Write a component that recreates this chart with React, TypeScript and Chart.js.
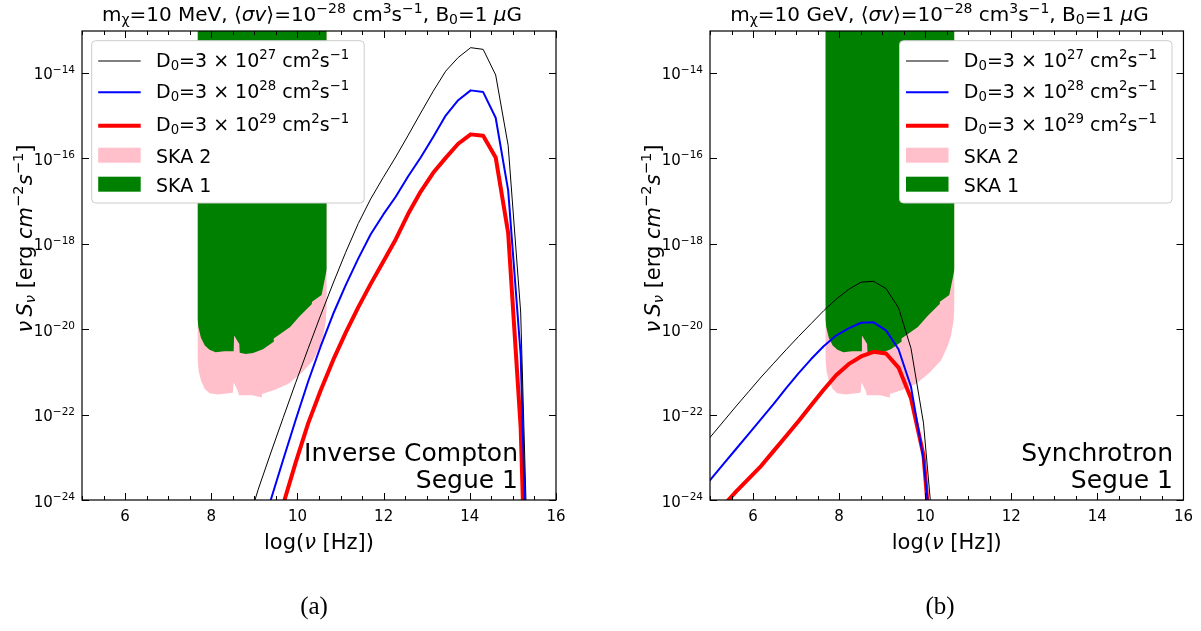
import React, { useEffect, useRef } from "react";
import { Chart, registerables } from "chart.js";

Chart.register(...registerables);

// ---------------- data (log10 values) ----------------
const xTicks = [6, 8, 10, 12, 14, 16];
const yTickExponents = [-24, -22, -20, -18, -16, -14];
const yMinExp = -24;
const yMaxExp = -13.02;
const xMin = 5;
const xMax = 16;

// (a) Inverse Compton, m = 10 MeV
const icLogNu = [8.8, 9.09, 9.38, 9.67, 9.96, 10.25, 10.54, 10.83, 11.12, 11.41, 11.7, 11.99, 12.28, 12.57, 12.86, 13.15, 13.44, 13.73, 14.02, 14.31, 14.6, 14.89, 15.18, 15.47];
const icD27 = [-24.7, -23.75, -22.9, -22.07, -21.25, -20.45, -19.67, -18.92, -18.2, -17.53, -16.95, -16.45, -15.97, -15.46, -14.94, -14.43, -13.96, -13.64, -13.41, -13.45, -14.05, -15.7, -19.6, -30];
const icD28 = [-25.8, -24.9, -24.0, -23.05, -22.12, -21.22, -20.4, -19.64, -18.97, -18.35, -17.78, -17.32, -16.9, -16.42, -15.98, -15.5, -15.0, -14.64, -14.41, -14.45, -15.05, -16.75, -20.6, -31];
const icD29 = [-27.0, -26.0, -25.0, -24.1, -23.12, -22.2, -21.43, -20.72, -20.08, -19.49, -18.94, -18.42, -17.9, -17.3, -16.78, -16.34, -15.99, -15.66, -15.44, -15.47, -15.98, -17.75, -22.3, -32];

// (b) Synchrotron, m = 10 GeV
const synLogNu = [4.74, 5.03, 5.32, 5.61, 5.9, 6.19, 6.48, 6.77, 7.06, 7.35, 7.64, 7.93, 8.22, 8.51, 8.8, 9.09, 9.38, 9.67, 9.96, 10.25];
const synD27 = [-22.85, -22.5, -22.15, -21.8, -21.46, -21.12, -20.8, -20.48, -20.17, -19.87, -19.57, -19.3, -19.07, -18.9, -18.88, -19.05, -19.5, -20.45, -22.2, -25.5];
const synD28 = [-23.85, -23.5, -23.15, -22.8, -22.45, -22.1, -21.75, -21.38, -21.03, -20.7, -20.4, -20.15, -19.98, -19.85, -19.84, -20.03, -20.47, -21.35, -23.05, -26.0];
const synD29 = [-24.8, -24.45, -24.12, -23.8, -23.5, -23.2, -22.85, -22.5, -22.15, -21.78, -21.42, -21.08, -20.82, -20.64, -20.53, -20.57, -20.9, -21.62, -22.95, -26.5];

// SKA sensitivity (lower edge of the shaded regions; shaded up to the top)
const ska1LogNu = [7.68, 7.7, 7.76, 7.85, 7.96, 8.1, 8.3, 8.52, 8.53, 8.65, 8.66, 8.8, 8.97, 9.2, 9.44, 9.45, 9.83, 10.05, 10.33, 10.34, 10.56, 10.64, 10.68];
const ska1Lower = [-19.75, -19.95, -20.2, -20.38, -20.48, -20.54, -20.52, -20.52, -20.15, -20.35, -20.55, -20.58, -20.56, -20.47, -20.3, -20.22, -19.95, -19.7, -19.42, -19.36, -19.2, -18.8, -18.6];
const ska2LogNu = [7.68, 7.71, 7.76, 7.85, 7.96, 8.15, 8.5, 8.52, 8.62, 8.64, 8.95, 9.17, 9.18, 9.48, 9.79, 10.1, 10.37, 10.52, 10.6, 10.66, 10.68];
const ska2Lower = [-20.7, -21.0, -21.2, -21.4, -21.5, -21.53, -21.49, -21.25, -21.45, -21.55, -21.55, -21.6, -21.52, -21.42, -21.28, -21.02, -20.73, -20.4, -20.15, -19.8, -19.5];

const diffusionExps = ["27", "28", "29"];
const seriesColors = ["#000000", "#0000ff", "#ff0000"];
const seriesWidths = [1, 2, 4];
const skaLabels = ["SKA 2", "SKA 1"];
const skaColors = ["#ffc0cb", "#008000"];
const panelMasses = ["10 MeV", "10 GeV"];
const panelNotes = [
  ["Inverse Compton", "Segue 1"],
  ["Synchrotron", "Segue 1"],
];
const captions = ["(a)", "(b)"];

// ---------------- helpers ----------------
const FAMILY = '"DejaVu Sans", sans-serif';
type Seg = { t: string; sub?: boolean; sup?: boolean; it?: boolean };

function segFont(s: Seg, size: number) {
  const sz = s.sub || s.sup ? size * 0.7 : size;
  return `${s.it ? "italic " : ""}${sz}px ${FAMILY}`;
}
function richWidth(ctx: CanvasRenderingContext2D, segs: Seg[], size: number) {
  let w = 0;
  for (const s of segs) {
    ctx.font = segFont(s, size);
    w += ctx.measureText(s.t).width;
  }
  return w;
}
function drawRich(ctx: CanvasRenderingContext2D, segs: Seg[], x: number, y: number, size: number, align: "left" | "center" | "right") {
  const w = richWidth(ctx, segs, size);
  let cx = align === "center" ? x - w / 2 : align === "right" ? x - w : x;
  ctx.textAlign = "left";
  ctx.textBaseline = "alphabetic";
  for (const s of segs) {
    ctx.font = segFont(s, size);
    const dy = s.sup ? -0.42 * size : s.sub ? 0.16 * size : 0;
    ctx.fillText(s.t, cx, y + dy);
    cx += ctx.measureText(s.t).width;
  }
}

const titleSegs = (mass: string): Seg[] => [
  { t: "m" }, { t: "\u03C7", sub: true }, { t: `=${mass}, \u27E8` }, { t: "\u03C3v", it: true },
  { t: "\u27E9=10" }, { t: "\u221228", sup: true }, { t: " cm" }, { t: "3", sup: true }, { t: "s" },
  { t: "\u22121", sup: true }, { t: ", B" }, { t: "0", sub: true }, { t: "=1 " }, { t: "\u03BC", it: true }, { t: "G" },
];
const legendSegs = (exp: string): Seg[] => [
  { t: "D" }, { t: "0", sub: true }, { t: "=3 \u00D7 10" }, { t: exp, sup: true }, { t: " cm" },
  { t: "2", sup: true }, { t: "s" }, { t: "\u22121", sup: true },
];
const yTickSegs = (e: number): Seg[] => [{ t: "10" }, { t: "\u2212" + String(Math.abs(e)), sup: true }];
const xTitleSegs: Seg[] = [{ t: "log(" }, { t: "\u03BD", it: true }, { t: " [Hz])" }];
const yTitleSegs: Seg[] = [
  { t: "\u03BD", it: true }, { t: "\u2009" }, { t: "S", it: true }, { t: "\u03BD", sub: true, it: true },
  { t: " [erg " }, { t: "cm", it: true }, { t: "\u22122", sup: true }, { t: "s", it: true }, { t: "\u22121", sup: true }, { t: "]" },
];

type Spec = {
  key: string;
  offsetX: number;
  width: number;
  plotLeft: number;
  plotRight: number;
  nu: number[];
  series: number[][];
  mass: string;
  note: string[];
  titleCenter: number;
  yTitleX: number;
  legendX: number;
  noteRight: number;
};

const PLOT_TOP = 31;
const PLOT_BOTTOM = 500;
const H = 631;

function decorPlugin(spec: Spec) {
  return {
    id: "decor" + spec.key,
    afterDraw(chart: any) {
      const ctx: CanvasRenderingContext2D = chart.ctx;
      const ca = chart.chartArea;
      const xs = chart.scales.x;
      const ys = chart.scales.y;
      const ox = spec.offsetX;
      ctx.save();
      // ticks (inward, all four sides)
      ctx.strokeStyle = "#000";
      ctx.lineWidth = 1;
      ctx.beginPath();
      for (let k = 0; k <= (xMax - xMin) * 2; k++) {
        const v = xMin + k * 0.5;
        const px = Math.round(xs.getPixelForValue(v)) + 0.5;
        const major = xTicks.includes(v);
        const len = major ? 7 : 4;
        ctx.moveTo(px, ca.bottom);
        ctx.lineTo(px, ca.bottom - len);
        ctx.moveTo(px, ca.top);
        ctx.lineTo(px, ca.top + len);
      }
      for (const e of yTickExponents) {
        const py = Math.round(ys.getPixelForValue(Math.pow(10, e))) + 0.5;
        ctx.moveTo(ca.left, py);
        ctx.lineTo(ca.left + 7, py);
        ctx.moveTo(ca.right, py);
        ctx.lineTo(ca.right - 7, py);
      }
      ctx.stroke();
      ctx.lineWidth = 1.2;
      ctx.strokeRect(ca.left, ca.top, ca.right - ca.left, ca.bottom - ca.top);

      // y tick labels (10^n)
      ctx.fillStyle = "#000";
      for (const e of yTickExponents) {
        const py = ys.getPixelForValue(Math.pow(10, e));
        drawRich(ctx, yTickSegs(e), ca.left - 7, py + 6.5, 15, "right");
      }

      // legend
      const lx = spec.legendX - ox;
      const ly = 40.7;
      const lw = 272.5;
      const lh = 162.3;
      ctx.beginPath();
      ctx.roundRect(lx, ly, lw, lh, 4);
      ctx.fillStyle = "#ffffff";
      ctx.fill();
      ctx.strokeStyle = "#cccccc";
      ctx.lineWidth = 1;
      ctx.stroke();
      const baseOff = [26, 57.6, 90, 122, 151];
      const lineOff = [20.3, 51.6, 85];
      for (let i = 0; i < 3; i++) {
        ctx.beginPath();
        ctx.strokeStyle = seriesColors[i];
        ctx.lineWidth = seriesWidths[i];
        ctx.moveTo(lx + 6.5, ly + lineOff[i]);
        ctx.lineTo(lx + 49, ly + lineOff[i]);
        ctx.stroke();
        ctx.fillStyle = "#000";
        drawRich(ctx, legendSegs(diffusionExps[i]), lx + 64.3, ly + baseOff[i], 19, "left");
      }
      for (let j = 0; j < 2; j++) {
        ctx.fillStyle = skaColors[j];
        ctx.fillRect(lx + 6.5, ly + baseOff[3 + j] - 15, 42.5, 15);
        ctx.fillStyle = "#000";
        drawRich(ctx, [{ t: skaLabels[j] }], lx + 64.3, ly + baseOff[3 + j], 19, "left");
      }

      // title
      ctx.fillStyle = "#000";
      drawRich(ctx, titleSegs(spec.mass), spec.titleCenter - ox, 21, 20, "center");
      // x title
      drawRich(ctx, xTitleSegs, (ca.left + ca.right) / 2, 549, 21, "center");
      // y title
      ctx.save();
      ctx.translate(spec.yTitleX - ox, 238.5);
      ctx.rotate(-Math.PI / 2);
      drawRich(ctx, yTitleSegs, 0, 0, 21, "center");
      ctx.restore();
      // annotation
      drawRich(ctx, [{ t: spec.note[0] }], spec.noteRight - ox, 461, 25, "right");
      drawRich(ctx, [{ t: spec.note[1] }], spec.noteRight - ox, 488, 25, "right");
      ctx.restore();
    },
  };
}

const toPts = (xs: number[], ys: number[]) => xs.map((x, i) => ({ x, y: Math.pow(10, ys[i]) }));

function makeConfig(spec: Spec): any {
  const lineSets = spec.series.map((s, i) => ({
    label: `D0=3e${diffusionExps[i]}`,
    data: toPts(spec.nu, s),
    borderColor: seriesColors[i],
    borderWidth: seriesWidths[i],
    pointRadius: 0,
    fill: false,
    tension: 0,
    borderJoinStyle: "round",
    order: 0,
  }));
  return {
    type: "line",
    data: {
      datasets: [
        ...lineSets,
        {
          label: skaLabels[1],
          data: toPts(ska1LogNu, ska1Lower),
          borderColor: "rgba(0,0,0,0)",
          borderWidth: 0,
          backgroundColor: skaColors[1],
          fill: "end",
          pointRadius: 0,
          tension: 0,
          order: 1,
        },
        {
          label: skaLabels[0],
          data: toPts(ska2LogNu, ska2Lower),
          borderColor: "rgba(0,0,0,0)",
          borderWidth: 0,
          backgroundColor: skaColors[0],
          fill: "end",
          pointRadius: 0,
          tension: 0,
          order: 2,
        },
      ],
    },
    options: {
      responsive: false,
      animation: false,
      devicePixelRatio: 1,
      events: [],
      layout: { padding: { left: 0, top: PLOT_TOP, right: spec.width - spec.plotRight, bottom: 0 } },
      plugins: { legend: { display: false }, tooltip: { enabled: false }, title: { display: false } },
      scales: {
        x: {
          type: "linear",
          min: xMin,
          max: xMax,
          grid: { display: false, drawTicks: false },
          border: { display: false },
          ticks: { color: "#000", font: { family: FAMILY, size: 15 }, padding: 8, maxRotation: 0, autoSkip: false },
          afterBuildTicks: (s: any) => {
            s.ticks = xTicks.map((v) => ({ value: v }));
          },
          afterFit: (s: any) => {
            s.height = H - PLOT_BOTTOM;
          },
        },
        y: {
          type: "logarithmic",
          bounds: "data",
          min: Math.pow(10, yMinExp),
          max: Math.pow(10, yMaxExp),
          grid: { display: false, drawTicks: false },
          border: { display: false },
          ticks: { display: false },
          afterBuildTicks: (s: any) => {
            s.ticks = yTickExponents.map((e) => ({ value: Math.pow(10, e) }));
          },
          afterFit: (s: any) => {
            s.width = spec.plotLeft;
          },
        },
      },
    },
    plugins: [decorPlugin(spec)],
  };
}

const specs: Spec[] = [
  {
    key: "a", offsetX: 0, width: 600, plotLeft: 82, plotRight: 556,
    nu: icLogNu, series: [icD27, icD28, icD29], mass: panelMasses[0], note: panelNotes[0],
    titleCenter: 312, yTitleX: 31.5, legendX: 91.7, noteRight: 518,
  },
  {
    key: "b", offsetX: 600, width: 601, plotLeft: 110, plotRight: 584,
    nu: synLogNu, series: [synD27, synD28, synD29], mass: panelMasses[1], note: panelNotes[1],
    titleCenter: 939.5, yTitleX: 659.5, legendX: 899.5, noteRight: 1173,
  },
];

function Panel({ spec }: { spec: Spec }) {
  const ref = useRef<HTMLCanvasElement>(null);
  useEffect(() => {
    const chart = new Chart(ref.current as HTMLCanvasElement, makeConfig(spec));
    return () => chart.destroy();
  }, [spec]);
  return (
    <canvas
      ref={ref}
      width={spec.width}
      height={H}
      style={{ position: "absolute", left: spec.offsetX, top: 0, width: spec.width, height: H }}
    />
  );
}

export default function App() {
  return (
    <div style={{ position: "absolute", left: 0, top: 0, width: 1201, height: 631, background: "#fff", overflow: "hidden" }}>
      {specs.map((s) => (
        <Panel key={s.key} spec={s} />
      ))}
      {captions.map((c, i) => (
        <div
          key={c}
          style={{
            position: "absolute",
            left: (i === 0 ? 314 : 940) - 50,
            width: 100,
            top: 592,
            textAlign: "center",
            fontFamily: '"Liberation Serif", serif',
            fontSize: 25,
            lineHeight: "28px",
            color: "#000",
          }}
        >
          {c}
        </div>
      ))}
    </div>
  );
}
